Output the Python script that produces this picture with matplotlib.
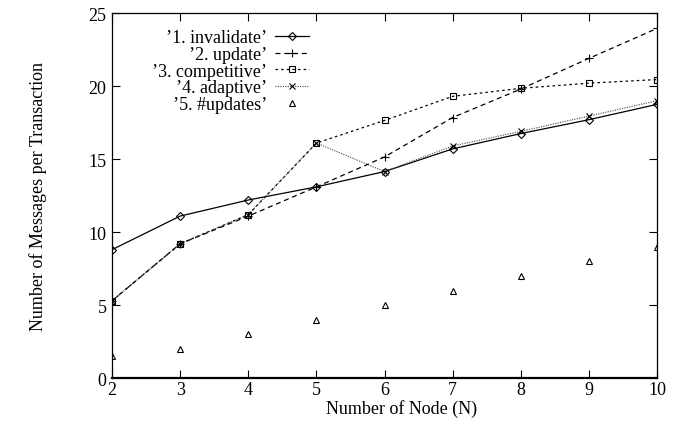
import matplotlib
matplotlib.use("Agg")
import matplotlib.pyplot as plt

# messages per transaction for each protocol, by cluster size
nodes = [2, 3, 4, 5, 6, 7, 8, 9, 10]
invalidate = [8.8, 11.1, 12.2, 13.1, 14.15, 15.7, 16.75, 17.7, 18.75]
update = [5.3, 9.2, 11.1, 13.1, 15.15, 17.85, 19.8, 21.9, 23.95]
competitive = [5.3, 9.2, 11.2, 16.1, 17.65, 19.3, 19.85, 20.2, 20.45]
adaptive = [5.3, 9.2, 11.2, 16.1, 14.15, 15.9, 16.9, 17.95, 19.0]
num_updates = [1.5, 2, 3, 4, 5, 6, 7, 8, 9]

labels = ["\u20191. invalidate\u2019", "\u20192. update\u2019", "\u20193. competitive\u2019",
          "\u20194. adaptive\u2019", "\u20195. #updates\u2019"]
x_ticks = [2, 3, 4, 5, 6, 7, 8, 9, 10]
y_ticks = [0, 5, 10, 15, 20, 25]

plt.rcParams["font.family"] = ["Liberation Serif", "DejaVu Serif"]
fs = 13

fig = plt.figure(figsize=(6.83, 4.27), dpi=100, facecolor="white")
ax = fig.add_axes([0.164, 0.112, 0.798, 0.855])

ms = 5
ax.plot(nodes, invalidate, color="black", lw=0.9, ls="-", marker="D",
        mfc="none", mec="black", ms=4, mew=0.8, label=labels[0])
ax.plot(nodes, update, color="black", lw=0.9, ls=(0, (4, 3)), marker="+",
        mec="black", ms=ms + 1, mew=0.8, label=labels[1])
ax.plot(nodes, competitive, color="black", lw=0.9, ls=(0, (2, 2.5)), marker="s",
        mfc="none", mec="black", ms=ms, mew=0.8, label=labels[2])
ax.plot(nodes, adaptive, color="#444444", lw=0.8, ls=(0, (1, 1.2)), marker="x",
        mec="black", ms=ms, mew=0.8, label=labels[3])
ax.plot(nodes, num_updates, ls="none", marker="^", mfc="none", mec="black",
        ms=ms, mew=0.8, label=labels[4])

ax.set_xlim(2, 10)
ax.set_ylim(0, 25)
ax.set_xticks(x_ticks)
ax.set_yticks(y_ticks)
ax.tick_params(direction="in", length=6, width=0.8, top=True, right=True,
               labelsize=fs)
ax.tick_params(axis="x", pad=2)
ax.tick_params(axis="y", pad=4)
for sp in ax.spines.values():
    sp.set_linewidth(0.9)
ax.spines["bottom"].set_linewidth(1.6)

ax.set_xlabel("Number of Node (N)", fontsize=fs)
ax.xaxis.set_label_coords(0.532, -0.058)
ax.set_ylabel("Number of Messages per Transaction", fontsize=fs)
ax.yaxis.set_label_coords(-0.12, 0.5)

ax.legend(loc="upper left", bbox_to_anchor=(0.06, 0.975), markerfirst=False,
          frameon=False, fontsize=fs, handlelength=1.9, handletextpad=0.45,
          labelspacing=-0.02, numpoints=1, borderaxespad=0)

fig.savefig("out.png", dpi=100, facecolor="white")
